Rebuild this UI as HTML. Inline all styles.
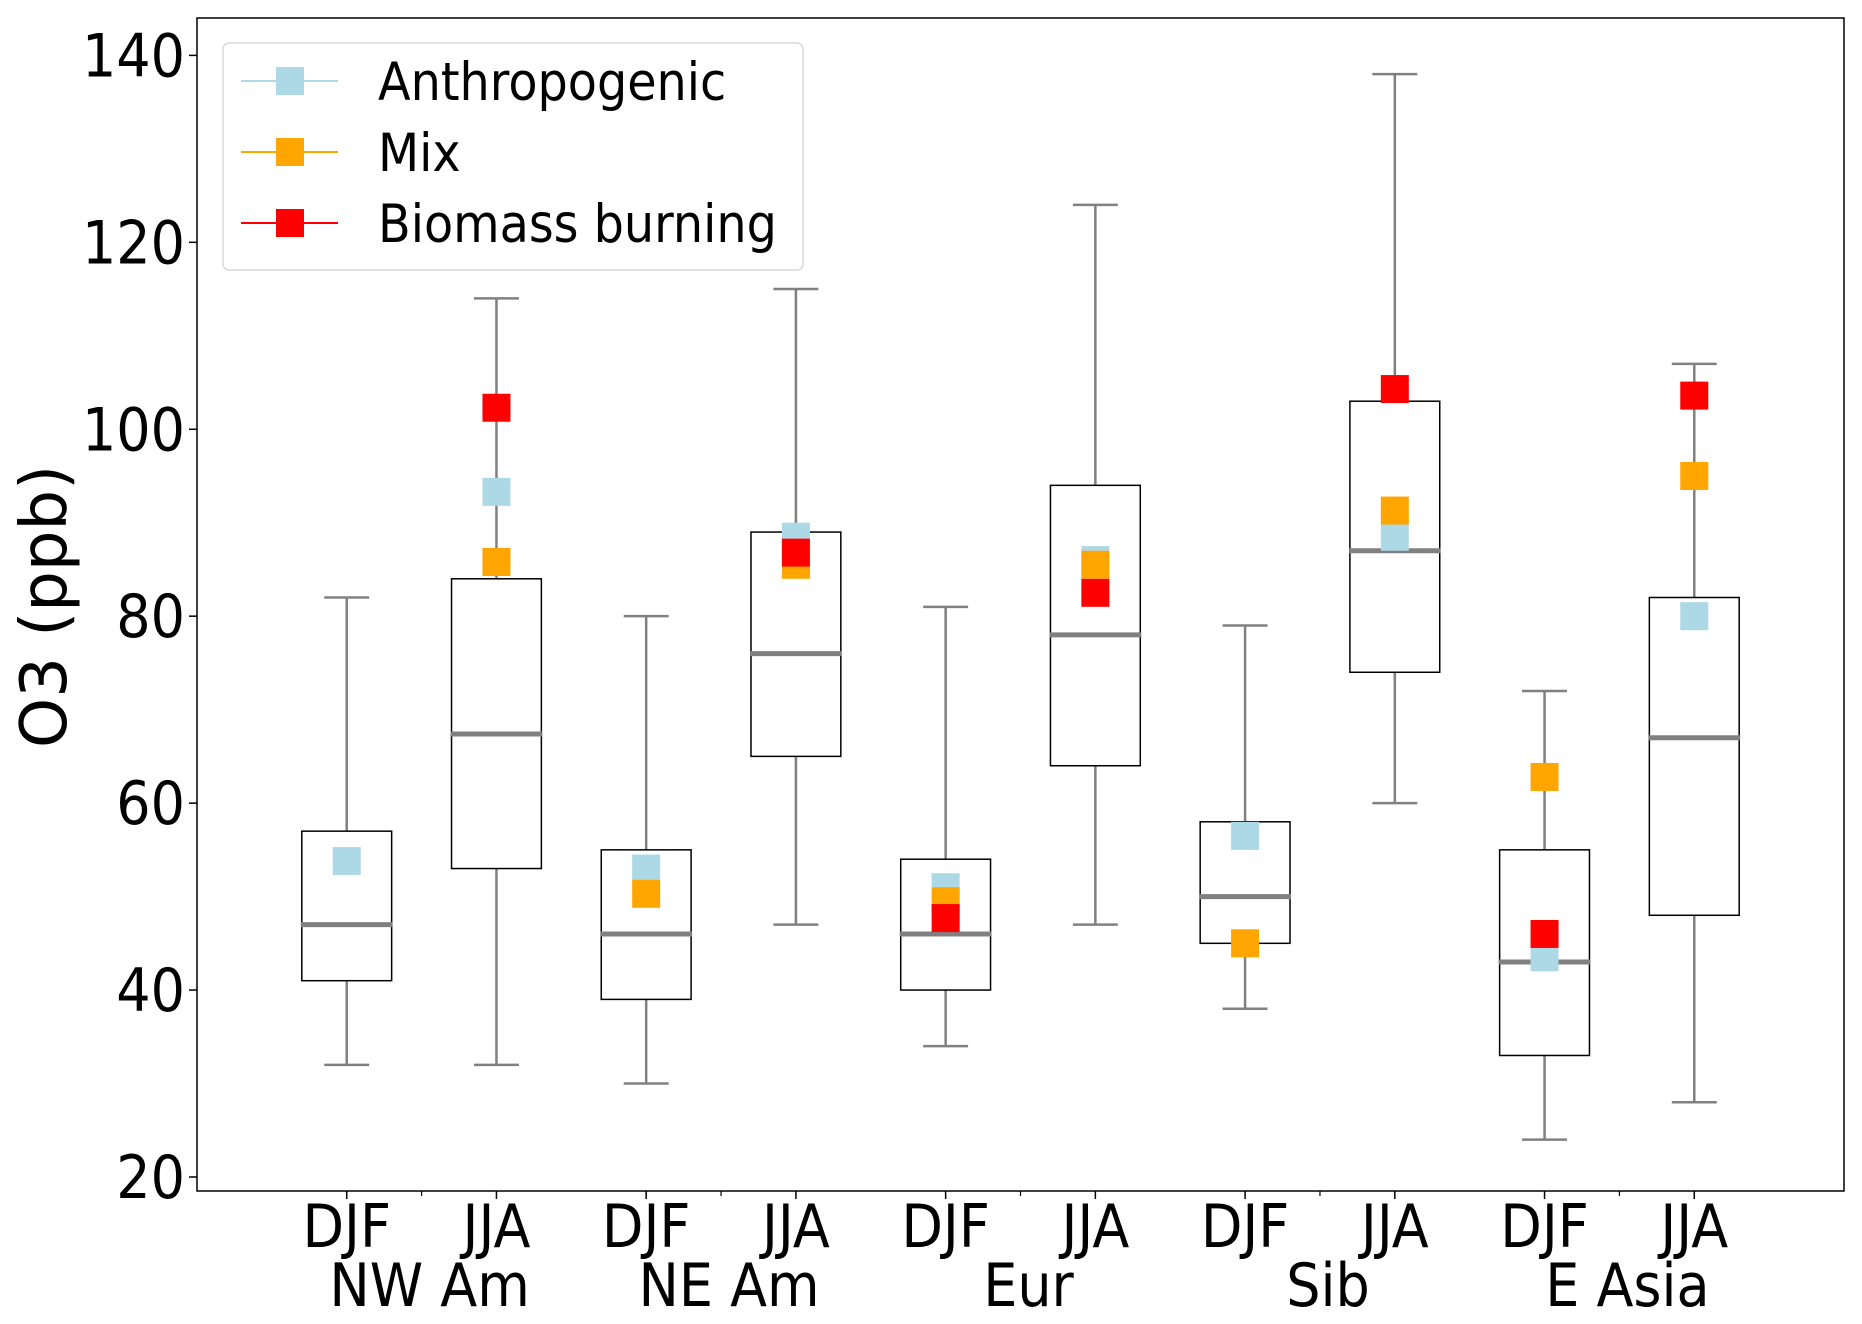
<!DOCTYPE html>
<html><head><meta charset="utf-8"><style>
html,body{margin:0;padding:0;background:#fff;}
svg{display:block;font-family:"DejaVu Sans","Liberation Sans",sans-serif;}
</style></head><body>
<svg id="chart" width="1862" height="1324" viewBox="0 0 1862 1324" xmlns="http://www.w3.org/2000/svg"></svg>
<script>
const seasons=["DJF","JJA","DJF","JJA","DJF","JJA","DJF","JJA","DJF","JJA"];
const regions=["NW Am","NE Am","Eur","Sib","E Asia"];
const whiskLo=[32,32,30,47,34,47,38,60,24,28];
const whiskHi=[82,114,80,115,81,124,79,138,72,107];
const q1=[41,53,39,65,40,64,45,74,33,48];
const q3=[57,84,55,89,54,94,58,103,55,82];
const medians=[47,67.4,46,76,46,78,50,87,43,67];
const anthro=[53.8,93.3,53,88.5,51,86,56.5,88.5,43.5,80];
const mix=[null,85.8,50.3,85.5,49.5,85.5,45,91.3,62.8,95];
const biomass=[null,102.3,null,86.8,47.7,82.5,null,104.3,46,103.6];
const yTicks=[20,40,60,80,100,120,140];

const L=197,R=1844,T=18,B=1191,YMIN=18.5,YMAX=144,XMAX=11;
const sx=v=>L+v*(R-L)/XMAX;
const sy=v=>T+(YMAX-v)*(B-T)/(YMAX-YMIN);
const svg=document.getElementById('chart');
const NS="http://www.w3.org/2000/svg";
function mk(tag,attrs,parent){const e=document.createElementNS(NS,tag);for(const k in attrs)e.setAttribute(k,attrs[k]);(parent||svg).appendChild(e);return e;}
function ctext(x,y,str,size,anchor,parent){
  const t=mk('text',{x:0,y:0,'text-anchor':anchor,'font-size':size,fill:'#000',transform:`translate(${x},${y}) scale(0.9,1)`},parent);
  t.textContent=str;return t;
}

const frame=mk('rect',{x:L,y:T,width:R-L,height:B-T,fill:'none',stroke:'#000','stroke-width':1.5});



yTicks.forEach(v=>{
  const y=sy(v);
  const t=mk('line',{x1:L-8,x2:L,y1:y,y2:y,stroke:'#000','stroke-width':1.5});
  
  
  const tx=ctext(L-12,y+21,String(v),60,'end');
  
  
});
const yl=mk('text',{x:0,y:0,'text-anchor':'middle','font-size':64,fill:'#000',transform:`translate(66,${(T+B)/2+2}) rotate(-90)`});
yl.textContent='O3 (ppb)';



seasons.forEach((s,i)=>{
  const x=sx(i+1);
  const t=mk('line',{x1:x,x2:x,y1:B,y2:B+8,stroke:'#000','stroke-width':1.5});
  
  
  const tx=ctext(x,B+56,s,60,'middle');
  
  
});
regions.forEach((r,g)=>{
  const x=sx(2*g+1.5);
  const t=mk('line',{x1:x,x2:x,y1:B,y2:B+5,stroke:'#000','stroke-width':1.2});
  
  
  const tx=ctext(x+8,B+115,r,60,'middle');
  
  
});

const bw=(R-L)/XMAX*0.6, cw=(R-L)/XMAX*0.3;
seasons.forEach((s,i)=>{
  const x=sx(i+1);
  const g=mk('g',{});
  
  
  mk('line',{x1:x,x2:x,y1:sy(whiskLo[i]),y2:sy(q1[i]),stroke:'#808080','stroke-width':2.5},g);
  mk('line',{x1:x,x2:x,y1:sy(q3[i]),y2:sy(whiskHi[i]),stroke:'#808080','stroke-width':2.5},g);
  mk('line',{x1:x-cw/2,x2:x+cw/2,y1:sy(whiskLo[i]),y2:sy(whiskLo[i]),stroke:'#808080','stroke-width':2.5},g);
  mk('line',{x1:x-cw/2,x2:x+cw/2,y1:sy(whiskHi[i]),y2:sy(whiskHi[i]),stroke:'#808080','stroke-width':2.5},g);
  mk('rect',{x:x-bw/2,y:sy(q3[i]),width:bw,height:sy(q1[i])-sy(q3[i]),fill:'none',stroke:'#000','stroke-width':1.5},g);
  mk('line',{x1:x-bw/2-1,x2:x+bw/2+1,y1:sy(medians[i]),y2:sy(medians[i]),stroke:'#808080','stroke-width':5},g);
});
const MS=28;
[[anthro,'#add8e6','anthropogenic-marker'],[mix,'#ffa500','mix-marker'],[biomass,'#ff0000','biomass-marker']].forEach(([arr,c,n])=>{
  arr.forEach((v,i)=>{
    if(v==null)return;
    const r=mk('rect',{x:sx(i+1)-MS/2,y:sy(v)-MS/2,width:MS,height:MS,fill:c});
    
    
  });
});

const lg=mk('g',{});


mk('rect',{x:223,y:43,width:580,height:227,rx:6,fill:'#fff','fill-opacity':0.8,stroke:'#d9d9d9','stroke-width':1.5},lg);
[['Anthropogenic','#add8e6'],['Mix','#ffa500'],['Biomass burning','#ff0000']].forEach(([lab,c],k)=>{
  const y=81+k*71;
  const e=mk('g',{},lg);
  
  
  mk('line',{x1:241,x2:338,y1:y,y2:y,stroke:c,'stroke-width':2},e);
  mk('rect',{x:290-MS/2,y:y-MS/2,width:MS,height:MS,fill:c},e);
  ctext(378,y+19,lab,53,'start',e);
});
</script>
</body></html>
